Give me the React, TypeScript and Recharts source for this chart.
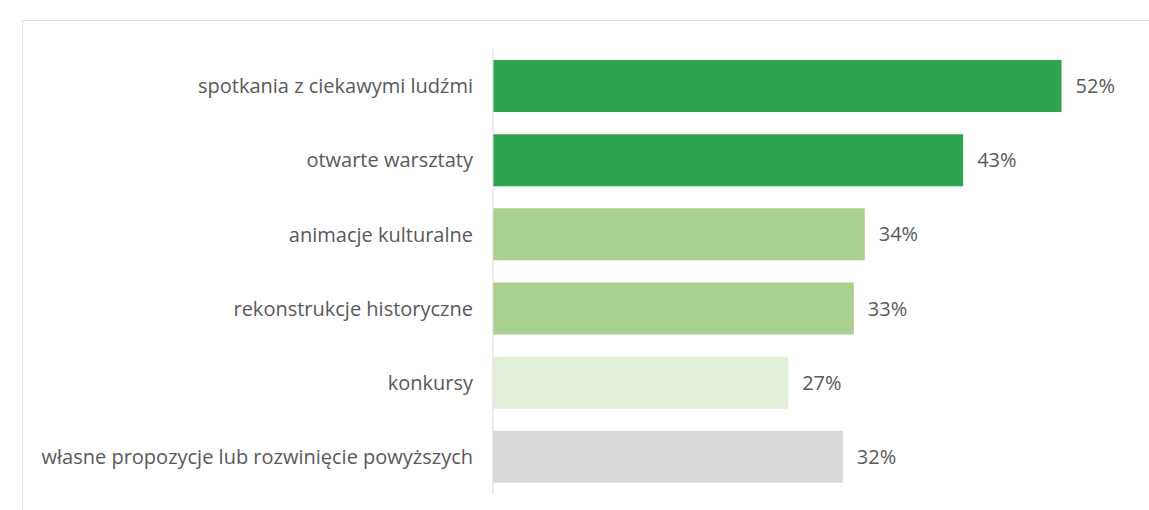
import { BarChart, Bar, XAxis, YAxis, Cell, LabelList } from 'recharts';

const categories = [
  'spotkania z ciekawymi ludźmi',
  'otwarte warsztaty',
  'animacje kulturalne',
  'rekonstrukcje historyczne',
  'konkursy',
  'własne propozycje lub rozwinięcie powyższych',
];
const values = [52, 43, 34, 33, 27, 32];
const colors = ['#2ea44f', '#2ea44f', '#a9d08e', '#a9d08e', '#e2efda', '#d9d9d9'];

const data = categories.map((name, i) => ({ name, value: values[i] }));

const font = "'Open Sans', sans-serif";

export default function App() {
  return (
    <div style={{ position: 'absolute', left: 0, top: 0, width: 1149, height: 510, overflow: 'hidden', background: '#fff' }}>
      <div
        style={{
          position: 'absolute',
          left: 22,
          top: 20,
          width: 1200,
          height: 600,
          border: '1px solid #e0e0e0',
        }}
      />
      <div style={{ position: 'absolute', left: 0, top: 0 }}>
        <BarChart
          width={1149}
          height={510}
          data={data}
          layout="vertical"
          margin={{ top: 49, right: 0, bottom: 16, left: 0 }}
          barCategoryGap={11}
        >
          <XAxis type="number" domain={[0, 60]} hide />
          <YAxis
            type="category"
            dataKey="name"
            width={493}
            axisLine={{ stroke: '#d9d9d9' }}
            tickLine={false}
            tickSize={0}
            tickMargin={20}
            interval={0}
            tick={{ fill: '#595959', fontSize: 20, fontFamily: font }}
          />
          <Bar dataKey="value" isAnimationActive={false}>
            {data.map((_, i) => (
              <Cell key={i} fill={colors[i]} />
            ))}
            <LabelList
              dataKey="value"
              position="right"
              offset={14}
              formatter={(v: any) => `${v}%`}
              style={{ fill: '#595959', fontSize: 20, fontFamily: font }}
            />
          </Bar>
        </BarChart>
      </div>
    </div>
  );
}
